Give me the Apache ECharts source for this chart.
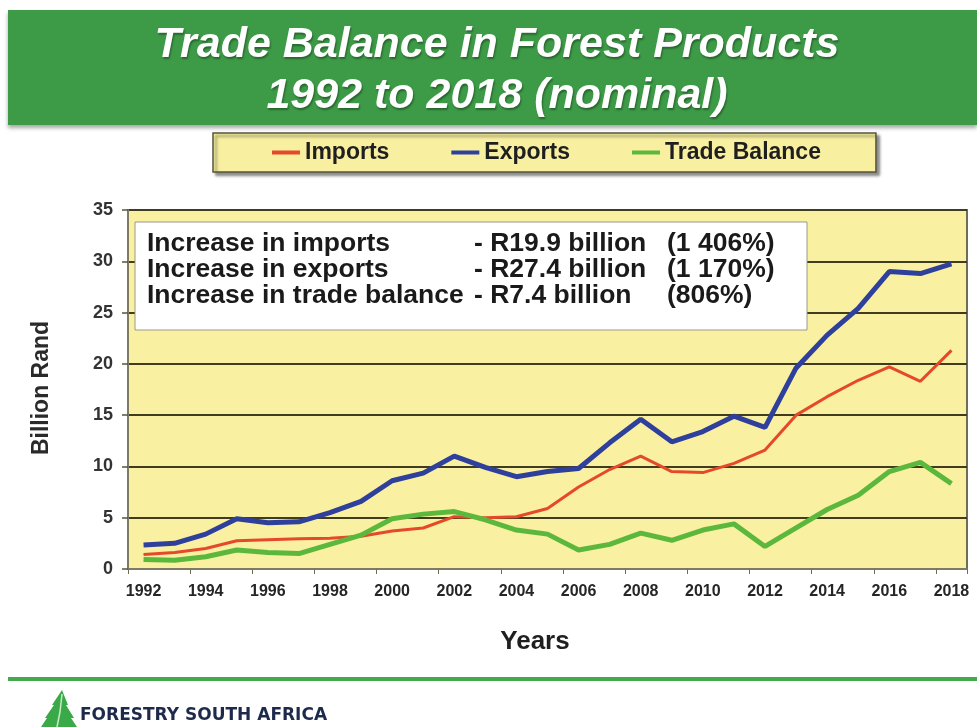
<!DOCTYPE html>
<html>
<head>
<meta charset="utf-8">
<title>Trade Balance in Forest Products 1992 to 2018 (nominal)</title>
<script src="https://cdn.jsdelivr.net/npm/echarts@6/dist/echarts.min.js"></script>
<style>
  html, body { margin: 0; padding: 0; background: #ffffff; }
  #chart { width: 977px; height: 727px; }
</style>
</head>
<body>
<div id="chart"></div>
<script>
// Years on the category axis
var years = ['1992','1993','1994','1995','1996','1997','1998','1999','2000','2001','2002','2003','2004','2005',
             '2006','2007','2008','2009','2010','2011','2012','2013','2014','2015','2016','2017','2018'];

// Values in billion Rand (nominal)
var imports = [1.42, 1.6, 2.0, 2.75, 2.85, 2.95, 3.0, 3.2, 3.7, 4.0, 5.1, 5.0, 5.1, 5.9,
               8.0, 9.7, 11.0, 9.5, 9.4, 10.3, 11.6, 15.0, 16.8, 18.4, 19.7, 18.3, 21.32];
var exportsR = [2.34, 2.5, 3.4, 4.9, 4.5, 4.6, 5.5, 6.6, 8.6, 9.35, 11.0, 9.9, 9.0, 9.5,
                9.8, 12.3, 14.6, 12.4, 13.4, 14.9, 13.8, 19.6, 22.8, 25.4, 29.0, 28.8, 29.74];
var balance = [0.92, 0.85, 1.2, 1.85, 1.6, 1.5, 2.4, 3.3, 4.9, 5.35, 5.6, 4.8, 3.8, 3.4,
               1.85, 2.4, 3.5, 2.8, 3.8, 4.4, 2.2, 4.0, 5.8, 7.2, 9.5, 10.4, 8.32];

// Summary lines shown in the white box
var summaryLabels = ['Increase in imports', 'Increase in exports', 'Increase in trade balance'];
var summaryAmounts = ['- R19.9 billion', '- R27.4 billion', '- R7.4 billion'];
var summaryPercents = ['(1 406%)', '(1 170%)', '(806%)'];

var FONT = '"Liberation Sans", Arial, Helvetica, sans-serif';

var chart = echarts.init(document.getElementById('chart'), null, { renderer: 'canvas' });

var summaryEls = [{
  type: 'rect',
  shape: { x: 135, y: 222, width: 672, height: 108 },
  style: { fill: '#ffffff', stroke: '#9a9a8a', lineWidth: 1 },
  z: 100
}];
summaryLabels.forEach(function (t, i) {
  var y = 244 + i * 26;
  summaryEls.push({ type: 'text', x: 147, y: y, z: 101,
    style: { text: t, fill: '#1a1a1a', font: 'bold 26.5px ' + FONT, textVerticalAlign: 'middle' } });
  summaryEls.push({ type: 'text', x: 474, y: y, z: 101,
    style: { text: summaryAmounts[i], fill: '#1a1a1a', font: 'bold 26.5px ' + FONT, textVerticalAlign: 'middle' } });
  summaryEls.push({ type: 'text', x: 667, y: y, z: 101,
    style: { text: summaryPercents[i], fill: '#1a1a1a', font: 'bold 26.5px ' + FONT, textVerticalAlign: 'middle' } });
});

var option = {
  animation: false,
  backgroundColor: '#ffffff',
  color: ['#e5492a', '#2f3f9c', '#5cb83c'],
  legend: {
    data: ['Imports', 'Exports', 'Trade Balance'],
    left: 213,
    top: 133,
    icon: 'rect',
    itemWidth: 28,
    itemHeight: 4,
    itemGap: 62,
    padding: [8, 55, 8, 59],
    backgroundColor: '#f8f0a0',
    borderColor: '#55553f',
    borderWidth: 1.5,
    shadowColor: 'rgba(0,0,0,0.45)',
    shadowBlur: 3,
    shadowOffsetX: 3,
    shadowOffsetY: 3,
    textStyle: { fontFamily: FONT, fontWeight: 'bold', fontSize: 23, color: '#1f1f1f' }
  },
  grid: {
    left: 128,
    right: 10,
    top: 210,
    bottom: 158,
    show: true,
    backgroundColor: '#faf0a2',
    borderColor: '#6e6d55',
    borderWidth: 2
  },
  xAxis: {
    type: 'category',
    data: years,
    boundaryGap: true,
    axisLine: { show: true, lineStyle: { color: '#7d7c62', width: 2 } },
    axisTick: { show: true, interval: 1, length: 5, lineStyle: { color: '#6e6d55', width: 1 } },
    axisLabel: { interval: 1, margin: 15, fontFamily: FONT, fontWeight: 'bold', fontSize: 16, color: '#262626' },
    splitLine: { show: false }
  },
  yAxis: {
    type: 'value',
    min: 0,
    max: 35,
    interval: 5,
    axisLine: { show: true, lineStyle: { color: '#7d7c62', width: 2 } },
    axisTick: { show: true, length: 6, lineStyle: { color: '#55553f', width: 1.5 } },
    axisLabel: { margin: 15, fontFamily: FONT, fontWeight: 'bold', fontSize: 18, color: '#333333' },
    splitLine: { show: true, lineStyle: { color: '#3f3c20', width: 2 } }
  },
  series: [
    { name: 'Imports', type: 'line', data: imports, symbol: 'none', lineStyle: { width: 3 } },
    { name: 'Exports', type: 'line', data: exportsR, symbol: 'none', lineStyle: { width: 5 } },
    { name: 'Trade Balance', type: 'line', data: balance, symbol: 'none', lineStyle: { width: 5 } }
  ],
  graphic: [
    // Title banner
    {
      type: 'rect', shape: { x: 8, y: 10, width: 969, height: 115 },
      style: { fill: '#3d9b47', shadowColor: 'rgba(0,0,0,0.35)', shadowBlur: 4, shadowOffsetY: 3 }
    },
    {
      type: 'text', x: 497, y: 45,
      style: { text: 'Trade Balance in Forest Products', fill: '#ffffff',
        font: 'italic bold 43px ' + FONT, textAlign: 'center', textVerticalAlign: 'middle',
        textShadowColor: 'rgba(0,0,0,0.35)', textShadowBlur: 2, textShadowOffsetX: 1, textShadowOffsetY: 2 }
    },
    {
      type: 'text', x: 497, y: 96,
      style: { text: '1992 to 2018 (nominal)', fill: '#ffffff',
        font: 'italic bold 43px ' + FONT, textAlign: 'center', textVerticalAlign: 'middle',
        textShadowColor: 'rgba(0,0,0,0.35)', textShadowBlur: 2, textShadowOffsetX: 1, textShadowOffsetY: 2 }
    },
    // Axis titles
    {
      type: 'text', x: 42, y: 388, rotation: Math.PI / 2,
      style: { text: 'Billion Rand', fill: '#2a2a2a', font: 'bold 23px ' + FONT,
        textAlign: 'center', textVerticalAlign: 'middle' }
    },
    {
      type: 'text', x: 535, y: 642,
      style: { text: 'Years', fill: '#1f1f1f', font: 'bold 26px ' + FONT,
        textAlign: 'center', textVerticalAlign: 'middle' }
    },
    // Summary box
    { type: 'group', children: summaryEls },
    // Footer rule and logo
    {
      type: 'rect', shape: { x: 8, y: 677, width: 969, height: 4 },
      style: { fill: '#45a84c' }
    },
    {
      type: 'polygon',
      shape: { points: [[62, 690], [68, 705], [66, 705], [74, 718], [71, 718], [77, 727], [41, 727], [47, 718], [45, 718], [54, 705], [52, 705]] },
      style: { fill: '#3aaa48' }
    },
    {
      type: 'polyline',
      shape: { points: [[62, 694], [60, 712], [57, 727]] },
      style: { stroke: '#c9ebc9', lineWidth: 1.5, fill: null }
    },
    {
      type: 'text', x: 80, y: 716,
      style: { text: 'FORESTRY SOUTH AFRICA', fill: '#1e2a4c',
        font: 'bold 17px "DejaVu Sans", Verdana, sans-serif', textVerticalAlign: 'middle' }
    }
  ]
};

chart.setOption(option);
</script>
</body>
</html>
